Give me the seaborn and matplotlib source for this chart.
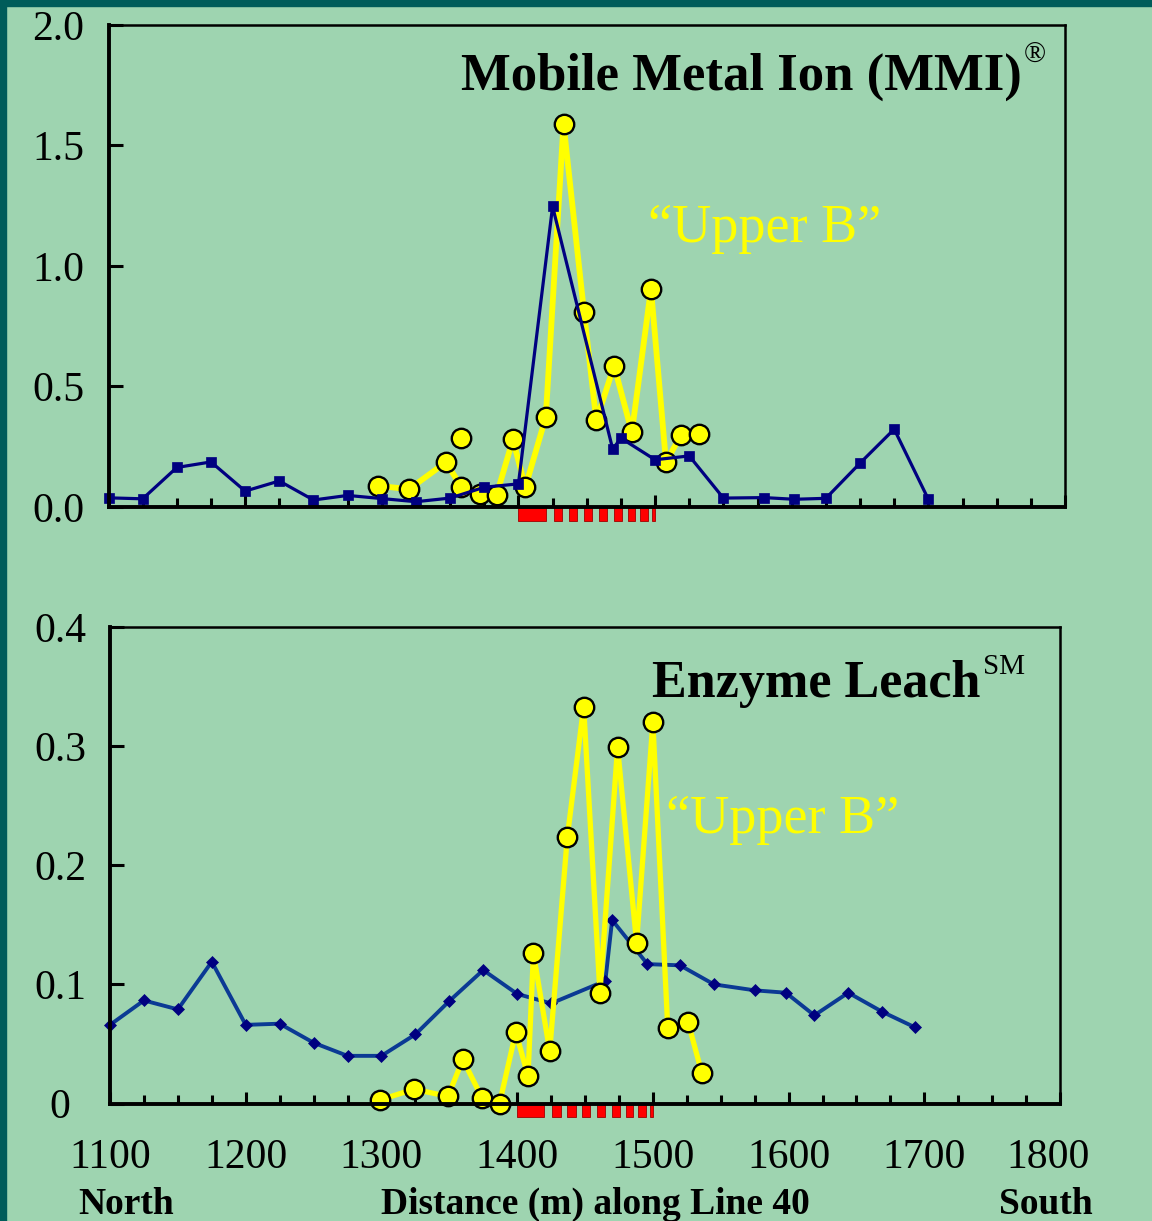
import matplotlib
matplotlib.use("Agg")
import matplotlib.pyplot as plt
import seaborn as sns
import numpy as np
from matplotlib.patches import Rectangle
from matplotlib.ticker import MultipleLocator
from matplotlib.transforms import ScaledTranslation

# ---------------- data ----------------
# Top panel: Mobile Metal Ion (MMI)
mmi_blue_x = [1100, 1125, 1150, 1175, 1200, 1225, 1250, 1275, 1300, 1325, 1350, 1375,
              1400, 1425, 1469, 1475, 1500, 1525, 1550, 1580, 1602, 1625, 1650, 1675, 1700]
mmi_blue_y = [0.038, 0.034, 0.164, 0.187, 0.066, 0.108, 0.029, 0.048, 0.035, 0.022, 0.037, 0.082,
              0.096, 1.247, 0.240, 0.286, 0.196, 0.212, 0.037, 0.039, 0.032, 0.036, 0.182, 0.323, 0.032]

mmi_yellow_x = [1297, 1320, 1347, 1358, 1372, 1384, 1396, 1405, 1420, 1433, 1448, 1457,
                1470, 1483, 1497, 1508, 1519, 1532]
mmi_yellow_y = [0.088, 0.074, 0.186, 0.085, 0.054, 0.050, 0.281, 0.081, 0.373, 1.590, 0.809, 0.359,
                0.586, 0.310, 0.905, 0.186, 0.299, 0.302]
mmi_yellow_extra_x = [1358]
mmi_yellow_extra_y = [0.286]

# Bottom panel: Enzyme Leach
el_blue_x = [1100, 1125, 1150, 1175, 1200, 1225, 1250, 1275, 1300, 1325, 1350, 1375,
             1400, 1425, 1465, 1470, 1496, 1520, 1545, 1575, 1598, 1619, 1644, 1669, 1693]
el_blue_y = [0.066, 0.0865, 0.079, 0.119, 0.066, 0.067, 0.051, 0.040, 0.040, 0.058, 0.086, 0.112,
             0.092, 0.084, 0.103, 0.154, 0.117, 0.116, 0.100, 0.095, 0.093, 0.074, 0.093, 0.077, 0.064]

el_yellow_x = [1299, 1324, 1349, 1360, 1374, 1387, 1399, 1408, 1412, 1424, 1437, 1449,
               1461, 1474, 1488, 1500, 1511, 1526, 1536]
el_yellow_y = [0.003, 0.012, 0.006, 0.037, 0.005, 0.000, 0.060, 0.023, 0.126, 0.044, 0.224, 0.333,
               0.093, 0.299, 0.135, 0.320, 0.063, 0.068, 0.026]

# Red mineralised-zone markers along the line
red_start = [1400, 1426, 1437, 1448, 1459, 1470, 1480, 1489, 1498]
red_end = [1420, 1432, 1443, 1454, 1465, 1476, 1485, 1495, 1500]

# Axis ticks / labels
x_ticks = [1100, 1200, 1300, 1400, 1500, 1600, 1700, 1800]
x_tick_labels = ["1100", "1200", "1300", "1400", "1500", "1600", "1700", "1800"]
mmi_yticks = [0.0, 0.5, 1.0, 1.5, 2.0]
mmi_ytick_labels = ["0.0", "0.5", "1.0", "1.5", "2.0"]
el_yticks = [0.0, 0.1, 0.2, 0.3, 0.4]
el_ytick_labels = ["0", "0.1", "0.2", "0.3", "0.4"]

# ---------------- style ----------------
sns.set_theme(style="white")
plt.rcParams["font.family"] = ["Liberation Serif", "DejaVu Serif"]

BG = "#9ED4B0"
TEAL = "#005C5A"
NAVY = "#000080"
YELLOW = "#FFFF00"

W, H = 1152, 1221
fig = plt.figure(figsize=(W / 100, H / 100), dpi=100, facecolor=BG)

# dark frame strips (slide border)
fig.add_artist(Rectangle((0, 0), 6 / W, 1, transform=fig.transFigure, color=TEAL, zorder=0))
fig.add_artist(Rectangle((0, 1 - 6 / H), 1, 6 / H, transform=fig.transFigure, color=TEAL, zorder=0))


def axrect(l, t, r, b):
    return [l / W, 1 - b / H, (r - l) / W, (b - t) / H]


ax1 = fig.add_axes(axrect(108.5, 25, 1065, 507))
ax2 = fig.add_axes(axrect(110, 627, 1060, 1103.5))

yellow_kw = dict(color=YELLOW, marker="o", markersize=14, markerfacecolor=YELLOW,
                 markeredgecolor="black", markeredgewidth=1.7, estimator=None,
                 sort=False, clip_on=False)

# ---- top panel ----
sns.lineplot(x=mmi_yellow_x, y=mmi_yellow_y, ax=ax1, linewidth=4.2, zorder=3, **yellow_kw)
sns.scatterplot(x=mmi_yellow_extra_x, y=mmi_yellow_extra_y, ax=ax1, s=14 ** 2, color=YELLOW,
                edgecolor="black", linewidth=1.7, zorder=3, clip_on=False)
sns.lineplot(x=mmi_blue_x, y=mmi_blue_y, ax=ax1, color=NAVY, linewidth=2.3, marker="s",
             markersize=7, markerfacecolor=NAVY, markeredgecolor=NAVY, markeredgewidth=0.5,
             estimator=None, sort=False, clip_on=False, zorder=4)

# ---- bottom panel ----
sns.lineplot(x=el_blue_x, y=el_blue_y, ax=ax2, color="#0B3A94", linewidth=2.8, marker="D",
             markersize=6, markerfacecolor=NAVY, markeredgecolor=NAVY, markeredgewidth=0.5,
             estimator=None, sort=False, clip_on=False, zorder=3)
sns.lineplot(x=el_yellow_x, y=el_yellow_y, ax=ax2, linewidth=3.8, zorder=4, **yellow_kw)

widths = np.subtract(red_end, red_start)
for ax, ymax, yt, ytl in ((ax1, 2.0, mmi_yticks, mmi_ytick_labels),
                          (ax2, 0.4, el_yticks, el_ytick_labels)):
    ax.set_facecolor(BG)
    ax.set_xlim(1100, 1800)
    ax.set_ylim(0, ymax)
    ax.bar(red_start, -0.029 * ymax, width=widths, bottom=0, align="edge", color="#FF0000",
           edgecolor="#A00000", linewidth=0.6, clip_on=False, zorder=1)
    for side in ("left", "bottom"):
        ax.spines[side].set_linewidth(2.8)
        ax.spines[side].set_color("black")
        ax.spines[side].set_zorder(5)
    for side in ("top", "right"):
        ax.spines[side].set_linewidth(1.8)
        ax.spines[side].set_color("black")
    ax.set_xlabel("")
    ax.set_ylabel("")
    ax.xaxis.set_minor_locator(MultipleLocator(25))
    ax.set_xticks(x_ticks)
    ax.tick_params(axis="x", which="major", direction="in", length=9, width=2.2,
                   color="black", bottom=True, top=False)
    ax.tick_params(axis="x", which="minor", direction="in", length=6.5, width=2.2,
                   color="black", bottom=True, top=False)
    ax.set_yticks(yt)
    ax.set_yticklabels(ytl, fontsize=30, color="black")
    ax.tick_params(axis="y", which="major", direction="in", length=10, width=2.2,
                   color="black", left=True, right=False, pad=36)
    for lbl in ax.get_yticklabels():
        lbl.set_horizontalalignment("center")
    ax.grid(False)

ax1.tick_params(axis="x", labelbottom=False)
ax2.set_xticklabels(x_tick_labels, fontsize=30, color="black")
ax2.tick_params(axis="x", which="major", pad=25)
# the last label ("1800") sits a little left of its tick in the reference
last = ax2.get_xticklabels()[-1]
last.set_transform(last.get_transform() + ScaledTranslation(-0.12, 0, fig.dpi_scale_trans))

# ---- titles and annotations ----
fig.text(1022 / W, 1 - 90 / H, "Mobile Metal Ion (MMI)", fontsize=38, fontweight="bold",
         ha="right", va="baseline", color="black")
fig.text(1024 / W, 1 - 63 / H, "®", fontsize=21, ha="left", va="baseline", color="black")
fig.text(648 / W, 1 - 241.5 / H, "\u201cUpper B\u201d", fontsize=39, color=YELLOW,
         ha="left", va="baseline")

fig.text(651.5 / W, 1 - 696.5 / H, "Enzyme Leach", fontsize=37.5, fontweight="bold",
         ha="left", va="baseline", color="black")
fig.text(983 / W, 1 - 674 / H, "SM", fontsize=21, ha="left", va="baseline", color="black")
fig.text(666.5 / W, 1 - 833.3 / H, "\u201cUpper B\u201d", fontsize=39, color=YELLOW,
         ha="left", va="baseline")

fig.text(126.5 / W, 1 - 1214 / H, "North", fontsize=27, fontweight="bold",
         ha="center", va="baseline", color="black")
fig.text(595 / W, 1 - 1214 / H, "Distance (m) along Line 40", fontsize=27, fontweight="bold",
         ha="center", va="baseline", color="black")
fig.text(1045.5 / W, 1 - 1214 / H, "South", fontsize=27, fontweight="bold",
         ha="center", va="baseline", color="black")

fig.savefig("out.png", dpi=100, facecolor=BG)
